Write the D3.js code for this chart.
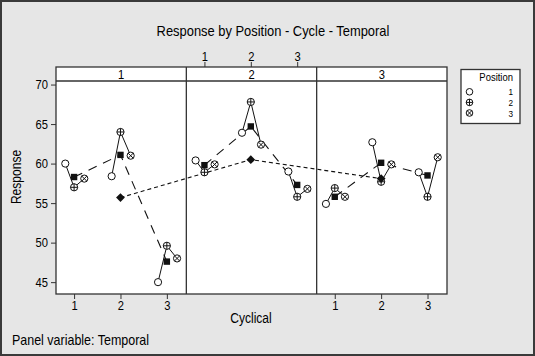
<!DOCTYPE html>
<html>
<head>
<meta charset="utf-8">
<script src="https://cdn.jsdelivr.net/npm/d3@7/dist/d3.min.js"></script>
<style>
  body { margin: 0; background: #e6e6e6; }
  svg text { font-family: "Liberation Sans Narrow", "Arial Narrow", "Liberation Sans", Arial, sans-serif; fill: #000; }
</style>
</head>
<body>
<svg id="chart" width="535" height="356"></svg>
<script>
// panels (Temporal) and x categories (Cyclical)
const temporal = [1, 2, 3];
const cyclical = [1, 2, 3];
const positions = [1, 2, 3];

// response per position, ordered temporal 1..3, each with cyclical 1..3
const position1 = [60.0, 58.4, 45.0, 60.4, 63.9, 59.0, 54.9, 62.7, 58.9];
const position2 = [57.0, 64.0, 49.6, 58.9, 67.8, 55.8, 56.9, 57.7, 55.8];
const position3 = [58.1, 61.0, 48.0, 59.9, 62.4, 56.8, 55.8, 59.9, 60.8];
// filled squares (cycle means) and diamonds (panel means)
const cycleMeans = [58.3, 61.1, 47.6, 59.8, 64.7, 57.3, 55.8, 60.1, 58.5];
const panelMeans = [55.7, 60.5, 58.1];

const yTicks = [45, 50, 55, 60, 65, 70];

const W = 535, H = 356;
const plot = { left: 56, right: 447, stripTop: 67, top: 81, bottom: 294 };
const dodge = [-0.19, 0, 0.22]; // horizontal offset of position 1, 2, 3

const svg = d3.select("#chart");

svg.append("rect")
    .attr("x", 1).attr("y", 1)
    .attr("width", W - 2).attr("height", H - 2)
    .attr("fill", "#e6e6e6")
    .attr("stroke", "#3a3a3a")
    .attr("stroke-width", 2);

const panel = d3.scaleBand()
    .domain(temporal)
    .range([plot.left, plot.right]);

const xFor = t => d3.scaleLinear()
    .domain([0.61, 3.42])
    .range([panel(t), panel(t) + panel.bandwidth()]);

const y = d3.scaleLinear()
    .domain([43.5, 70.45])
    .range([plot.bottom, plot.top]);

// build records
const series = [position1, position2, position3];
const points = [];
temporal.forEach((t, ti) => {
    cyclical.forEach((c, ci) => {
        const i = ti * 3 + ci;
        points.push({
            t, c,
            mean: cycleMeans[i],
            vals: positions.map((p, pi) => ({ p, v: series[pi][i] }))
        });
    });
});

// panels and strips
svg.selectAll(".panel")
    .data(temporal)
    .enter().append("rect")
    .attr("x", d => panel(d))
    .attr("y", plot.stripTop)
    .attr("width", panel.bandwidth())
    .attr("height", plot.bottom - plot.stripTop)
    .attr("fill", "white");

svg.selectAll(".strip-label")
    .data(temporal)
    .enter().append("text")
    .attr("x", d => panel(d) + panel.bandwidth() / 2)
    .attr("y", 79)
    .attr("text-anchor", "middle")
    .style("font-size", "13px")
    .text(d => d);

// y axis
const yAxis = svg.append("g")
    .attr("transform", `translate(${plot.left},0)`)
    .call(d3.axisLeft(y).tickValues(yTicks).tickSize(5).tickPadding(3));
yAxis.select(".domain").remove();
yAxis.selectAll("text").style("font-size", "13px").attr("fill", "#000");
yAxis.selectAll("line").attr("stroke", "#333");

// x axes: bottom on outer panels, top on the middle one
temporal.forEach(t => {
    const x = xFor(t);
    const g = svg.append("g");
    if (t === 2) {
        g.attr("transform", `translate(0,${plot.stripTop})`)
            .call(d3.axisTop(x).tickValues(cyclical).tickFormat(d3.format("d")).tickSize(5).tickPadding(1));
    } else {
        g.attr("transform", `translate(0,${plot.bottom})`)
            .call(d3.axisBottom(x).tickValues(cyclical).tickFormat(d3.format("d")).tickSize(5).tickPadding(2));
    }
    g.select(".domain").remove();
    g.selectAll("text").style("font-size", "13px").attr("fill", "#000");
    g.selectAll("line").attr("stroke", "#333");
});

// dashed lines joining cycle means inside each panel
temporal.forEach(t => {
    const x = xFor(t);
    const rows = points.filter(d => d.t === t);
    svg.append("path")
        .attr("d", d3.line().x(d => x(d.c)).y(d => y(d.mean))(rows))
        .attr("fill", "none")
        .attr("stroke", "#111")
        .attr("stroke-width", 1.1)
        .attr("stroke-dasharray", "9,7");
});

// short dashes joining panel means across panels
svg.append("path")
    .attr("d", d3.line()
        .x((d, i) => xFor(temporal[i])(2))
        .y(d => y(d))(panelMeans))
    .attr("fill", "none")
    .attr("stroke", "#111")
    .attr("stroke-width", 1.1)
    .attr("stroke-dasharray", "4,3");

// solid lines through the three positions
points.forEach(d => {
    const x = xFor(d.t);
    svg.append("path")
        .attr("d", d3.line()
            .x(v => x(d.c + dodge[v.p - 1]))
            .y(v => y(v.v))(d.vals))
        .attr("fill", "none")
        .attr("stroke", "#111")
        .attr("stroke-width", 1);
});

// markers
function marker(g, p, cx, cy, r) {
    g.append("circle")
        .attr("cx", cx).attr("cy", cy).attr("r", r)
        .attr("fill", "white").attr("stroke", "#111").attr("stroke-width", 1);
    if (p === 2) {
        g.append("path")
            .attr("d", `M${cx - r},${cy}H${cx + r}M${cx},${cy - r}V${cy + r}`)
            .attr("stroke", "#111").attr("stroke-width", 1);
    } else if (p === 3) {
        const k = r * 0.72;
        g.append("path")
            .attr("d", `M${cx - k},${cy - k}L${cx + k},${cy + k}M${cx - k},${cy + k}L${cx + k},${cy - k}`)
            .attr("stroke", "#111").attr("stroke-width", 1);
    }
}

const marks = svg.append("g");
points.forEach(d => {
    const x = xFor(d.t);
    d.vals.forEach(v => marker(marks, v.p, x(d.c + dodge[v.p - 1]), y(v.v), 3.6));
});

svg.selectAll(".mean")
    .data(points)
    .enter().append("rect")
    .attr("x", d => xFor(d.t)(d.c) - 3.2)
    .attr("y", d => y(d.mean) - 3.2)
    .attr("width", 6.4)
    .attr("height", 6.4)
    .attr("fill", "#111");

svg.selectAll(".pmean")
    .data(panelMeans)
    .enter().append("path")
    .attr("transform", (d, i) => `translate(${xFor(temporal[i])(2)},${y(d)})`)
    .attr("d", "M0,-4.4L4.4,0L0,4.4L-4.4,0Z")
    .attr("fill", "#111");

// frames
svg.append("rect")
    .attr("x", plot.left).attr("y", plot.stripTop)
    .attr("width", plot.right - plot.left)
    .attr("height", plot.bottom - plot.stripTop)
    .attr("fill", "none").attr("stroke", "#333").attr("stroke-width", 1.3);

svg.selectAll(".divider")
    .data(temporal.slice(1))
    .enter().append("line")
    .attr("x1", d => panel(d)).attr("x2", d => panel(d))
    .attr("y1", plot.stripTop).attr("y2", plot.bottom)
    .attr("stroke", "#333").attr("stroke-width", 1.3);

svg.append("line")
    .attr("x1", plot.left).attr("x2", plot.right)
    .attr("y1", plot.top).attr("y2", plot.top)
    .attr("stroke", "#333").attr("stroke-width", 1.3);

// titles
svg.append("text")
    .attr("x", 273).attr("y", 36)
    .attr("text-anchor", "middle")
    .style("font-size", "15px")
    .text("Response by Position - Cycle - Temporal");

svg.append("text")
    .attr("x", 251).attr("y", 323)
    .attr("text-anchor", "middle")
    .style("font-size", "14px")
    .text("Cyclical");

svg.append("text")
    .attr("transform", "translate(21,177) rotate(-90)")
    .attr("text-anchor", "middle")
    .style("font-size", "14px")
    .text("Response");

svg.append("text")
    .attr("x", 12).attr("y", 345)
    .style("font-size", "14.5px")
    .text("Panel variable: Temporal");

// legend
const legend = svg.append("g");
legend.append("rect")
    .attr("x", 461).attr("y", 69.5)
    .attr("width", 59).attr("height", 54)
    .attr("fill", "white").attr("stroke", "#333").attr("stroke-width", 1.3);
legend.append("text")
    .attr("x", 513).attr("y", 80.5)
    .attr("text-anchor", "end")
    .style("font-size", "11px")
    .text("Position");
positions.forEach((p, i) => {
    const cy = 91.8 + i * 10.6;
    marker(legend, p, 469.5, cy, 3.3);
    legend.append("text")
        .attr("x", 513).attr("y", cy + 3.5)
        .attr("text-anchor", "end")
        .style("font-size", "9.5px")
        .text(p);
});

// the reference uses a condensed face; squeeze the glyphs to match
svg.selectAll("text").each(function() {
    const w = this.getComputedTextLength();
    d3.select(this)
        .attr("textLength", w * 0.86)
        .attr("lengthAdjust", "spacingAndGlyphs");
});
</script>
</body>
</html>
